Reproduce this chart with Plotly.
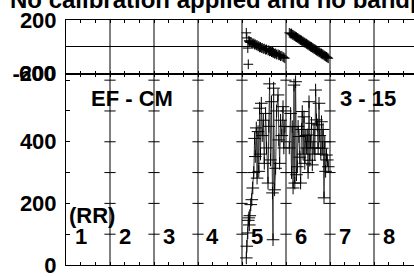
import plotly.graph_objects as go

# ---- data (x in panel units: panel k spans [k-1, k]) ----
t5 = [4.098, 4.109, 4.132, 4.143, 4.155, 4.166, 4.177, 4.200, 4.223, 4.245,
      4.268, 4.286, 4.302, 4.325, 4.343, 4.364, 4.382, 4.400, 4.420, 4.439,
      4.461, 4.484, 4.507, 4.536, 4.557, 4.591, 4.609, 4.627, 4.648, 4.670,
      4.693, 4.705, 4.718, 4.741, 4.764, 4.786, 4.818, 4.836, 4.855, 4.877,
      4.905, 4.932, 4.950, 4.973]
amp5 = [23, 61, 104, 145, 153, 130, 160, 196, 212, 250,
        300, 411, 352, 445, 282, 433, 304, 509, 360, 525,
        420, 470, 330, 492, 380, 266, 450, 588, 341, 530,
        234, 82, 574, 244, 314, 500, 552, 406, 330, 470,
        420, 514, 380, 450]
ph5 = [104, 66, -10, -131, 45, 40, 33, 36, 28, 24,
       25, 16, 18, 10, 12, 3, 5, -4, -2, -10,
       -8, -16, -14, -22, -20, -28, -26, -34, -32, -40,
       -38, -46, -44, -52, -50, -58, -56, -64, -62, -70,
       -68, -76, -80, -86]

t6 = [5.075, 5.105, 5.125, 5.143, 5.161, 5.182, 5.200, 5.218, 5.239, 5.257,
      5.275, 5.295, 5.314, 5.332, 5.352, 5.370, 5.389, 5.409, 5.427, 5.450,
      5.468, 5.484, 5.502, 5.523, 5.541, 5.559, 5.580, 5.598, 5.616, 5.636,
      5.655, 5.673, 5.693, 5.711, 5.730, 5.750, 5.768, 5.791, 5.807, 5.825,
      5.843, 5.864, 5.882, 5.900, 5.920, 5.939, 5.961]
amp6 = [380, 492, 300, 449, 250, 584, 266, 595, 293, 319,
        450, 417, 350, 266, 440, 498, 360, 481, 330, 420,
        380, 422, 300, 530, 340, 400, 460, 325, 380, 440,
        360, 568, 471, 455, 380, 525, 420, 360, 465, 379,
        440, 218, 400, 304, 357, 341, 319]
ph6 = [104, 98, 99, 90, 89, 83, 80, 75, 72, 66,
       64, 58, 54, 50, 47, 40, 39, 33, 30, 26,
       22, 17, 14, 9, 6, 0, -2, -8, -11, -16,
       -18, -24, -27, -33, -35, -40, -43, -49, -51, -56,
       -59, -64, -68, -72, -76, -81, -86]

panel_labels = ["1", "2", "3", "4", "5", "6", "7", "8"]
dividers = [1, 2, 3, 4, 5, 6, 7]
amp_ticks = [100, 200, 300, 400, 500, 600]
amp_tickvals = [0, 100, 200, 300, 400, 500, 600]
amp_ticktext = ["0", "", "200", "", "400", "", ""]
ph_tickvals = [-200, 0, 200]
ph_ticktext = ["-200", "", "200"]
title_text = "No calibration applied and no bandpass applied"

XMAX = 348 / 44.0
FONT = "Liberation Sans, Arial, sans-serif"
bold = dict(family=FONT, size=22, color="black", weight="bold")
title_font = dict(family=FONT, size=24, color="black", weight="bold")

fig = go.Figure()

# divider "+" ticks in amplitude panel
dx, dy = [], []
for k in dividers:
    for v in amp_ticks:
        dx.append(k); dy.append(v)
fig.add_trace(go.Scatter(x=dx, y=dy, mode="markers", xaxis="x", yaxis="y",
                         marker=dict(symbol="line-ew", size=8,
                                     line=dict(color="black", width=1)),
                         hoverinfo="skip", showlegend=False))

# amplitude
for tt, aa in ((t5, amp5), (t6, amp6)):
    fig.add_trace(go.Scatter(x=tt, y=aa, mode="lines+markers", xaxis="x", yaxis="y",
                             line=dict(color="#333333", width=1),
                             marker=dict(symbol="cross-thin", size=9,
                                         line=dict(color="black", width=1)),
                             showlegend=False))
# phase
for tt, pp in ((t5, ph5), (t6, ph6)):
    fig.add_trace(go.Scatter(x=tt, y=pp, mode="markers", xaxis="x2", yaxis="y2",
                             marker=dict(symbol="cross-thin", size=7,
                                         line=dict(color="black", width=1)),
                             showlegend=False))

minor = [i / 3 for i in range(0, 24)]
xcommon = dict(range=[0, XMAX], showline=True, linecolor="black", linewidth=1,
               mirror="ticks", ticks="inside", tickvals=minor, ticklen=3,
               tickcolor="black", showticklabels=False, showgrid=False,
               zeroline=False, automargin=False)

shapes = [dict(type="line", xref="x", yref="paper", x0=k, x1=k, y0=0, y1=1,
               line=dict(color="black", width=1)) for k in dividers]

annotations = []
for i, lab in enumerate(panel_labels):
    annotations.append(dict(x=i + 0.33, y=94, xref="x", yref="y", text=lab,
                            showarrow=False, font=bold, xanchor="center", yanchor="middle"))
annotations += [
    dict(x=1.51, y=539, xref="x", yref="y", text="EF - CM", showarrow=False,
         font=bold, xanchor="center", yanchor="middle"),
    dict(x=6.87, y=539, xref="x", yref="y", text="3 - 15", showarrow=False,
         font=bold, xanchor="center", yanchor="middle"),
    dict(x=0.6, y=162, xref="x", yref="y", text="(RR)", showarrow=False,
         font=bold, xanchor="center", yanchor="middle"),
    dict(x=-8 / 348, y=0.7796, xref="paper", yref="paper", text="600", showarrow=False,
         font=bold, xanchor="right", yanchor="middle"),
]

fig.update_layout(
    width=414, height=277,
    margin=dict(l=66, r=0, t=20, b=12, autoexpand=False),
    paper_bgcolor="white", plot_bgcolor="white",
    showlegend=False,
    title=dict(text=title_text, font=title_font, xref="container", yref="container",
               x=10 / 414, xanchor="left", y=1.0, yanchor="middle", automargin=False),
    xaxis=dict(anchor="y", **xcommon),
    xaxis2=dict(anchor="y2", matches="x", **xcommon),
    yaxis=dict(domain=[0, 0.7796], range=[0, 620], showline=True, linecolor="black",
               linewidth=1, ticks="inside", ticklen=4, tickcolor="black",
               tickvals=amp_tickvals, ticktext=amp_ticktext, tickfont=bold,
               showgrid=False, zeroline=False, ticklabelstandoff=4, automargin=False,
               ticklabeloverflow="allow"),
    yaxis2=dict(domain=[0.7816, 1], range=[-200, 200], showline=True, linecolor="black",
                linewidth=1, ticks="inside", ticklen=4, tickcolor="black",
                tickvals=ph_tickvals, ticktext=ph_ticktext, tickfont=bold,
                showgrid=False, zeroline=True, zerolinecolor="black", zerolinewidth=1,
                ticklabelstandoff=4, automargin=False, ticklabeloverflow="allow"),
    shapes=shapes,
    annotations=annotations,
)

fig.write_html("out.html", config={"displayModeBar": False},
               post_script="document.body.style.margin='0';")
